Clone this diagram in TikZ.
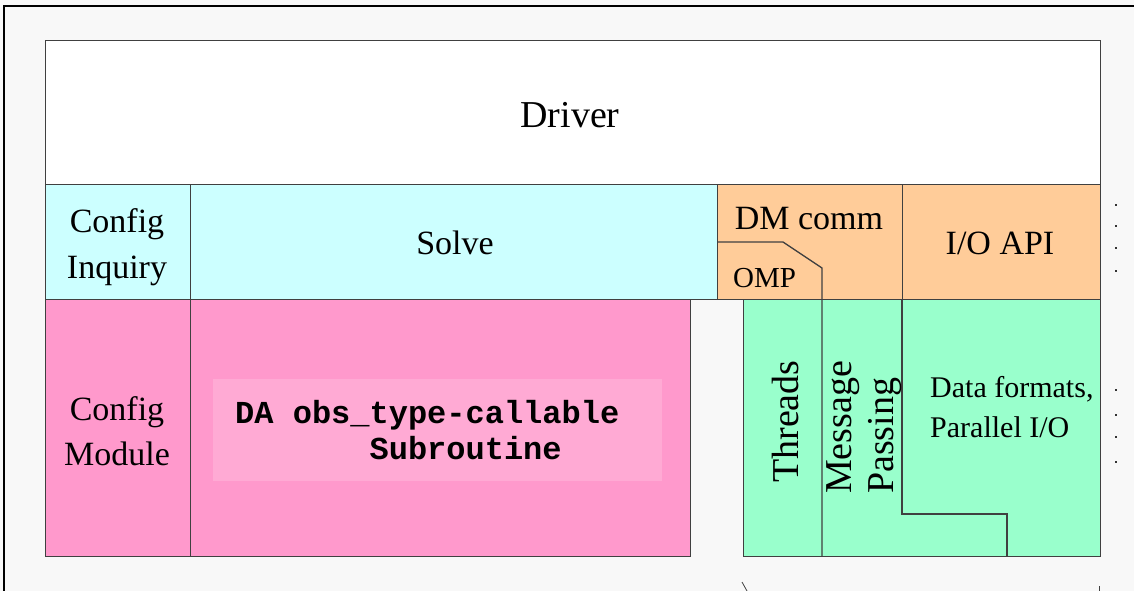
\documentclass[tikz,border=0pt]{standalone}
\usepackage{fontspec}
\setmainfont{Liberation Serif}
\setmonofont{Liberation Mono}
\definecolor{bg}{HTML}{F8F8F8}
\definecolor{bord}{HTML}{404040}
\definecolor{cyanbox}{HTML}{CCFFFF}
\definecolor{orangebox}{HTML}{FFCC99}
\definecolor{pinkbox}{HTML}{FF99CC}
\definecolor{pinklight}{HTML}{FFAAD4}
\definecolor{greenbox}{HTML}{99FFCC}
\begin{document}
\begin{tikzpicture}[x=1pt,y=-1pt,
  box/.style={draw=bord, line width=1.3pt, inner sep=0pt, anchor=north west},
  divline/.style={draw=bord, line width=1.3pt},
  lbl/.style={inner sep=0pt, anchor=base, font=\fontsize{34}{40}\selectfont},
  vlbl/.style={inner sep=0pt, anchor=base west, rotate=90, font=\fontsize{38}{40}\selectfont},
  dot/.style={fill=black!80, inner sep=0pt, minimum width=2pt, minimum height=1.3pt, rectangle},
  mono/.style={inner sep=0pt, anchor=base west, font=\fontsize{32}{36}\selectfont\ttfamily\bfseries},
]
\fill[bg] (0,0) rectangle (1134,591);
\useasboundingbox (0,0) rectangle (1134,591);
\draw[line width=2.5pt] (1134,6) -- (4,6) -- (4,591);

% boxes
\node[box, fill=white, minimum width=1055, minimum height=144] (driver) at (45,40) {};
\node[box, fill=cyanbox, minimum width=145, minimum height=115] (cfginq) at (45,184) {};
\node[box, fill=cyanbox, minimum width=527, minimum height=115] (solve) at (190,184) {};
\node[box, fill=orangebox, minimum width=185, minimum height=115] (dm) at (717,184) {};
\node[box, fill=orangebox, minimum width=198, minimum height=115] (io) at (902,184) {};
\node[box, fill=pinkbox, minimum width=145, minimum height=257] (cfgmod) at (45,299) {};
\node[box, fill=pinkbox, minimum width=500, minimum height=257] (da) at (190,299) {};
\node[box, draw=none, fill=pinklight, minimum width=449, minimum height=102] (dainner) at (212,378) {};
\node[box, fill=greenbox, minimum width=357, minimum height=257] (green) at (743,299) {};

% dividers
\draw[divline] (717,242) -- (783,242) -- (822,268) -- (822,556);
\draw[divline] (902,299) -- (902,514) -- (1007,514) -- (1007,556);

% labels
\node[lbl, font=\fontsize{38}{44}\selectfont] (tdriver) at (570,128) {Driver};
\node[lbl] (tconfig1) at (117,232) {Config};
\node[lbl] (tinquiry) at (117,278) {Inquiry};
\node[lbl] (tsolve) at (455,254) {Solve};
\node[lbl] (tdm) at (809,229) {DM comm};
\node[lbl, anchor=base west, font=\fontsize{29}{34}\selectfont] (tomp) at (733,287) {OMP};
\node[lbl] (tio) at (1000,254) {I/O API};
\node[lbl] (tconfig2) at (117,420) {Config};
\node[lbl] (tmodule) at (117,465) {Module};
\node[lbl, anchor=base west, font=\fontsize{30}{34}\selectfont] (tdata) at (930,397) {Data formats,};
\node[lbl, anchor=base west, font=\fontsize{30}{34}\selectfont] (tpario) at (930,437) {Parallel I/O};
\node[vlbl] (tthreads) at (798,483) {Threads};
\node[vlbl] (tmessage) at (851,494) {Message};
\node[vlbl] (tpassing) at (893,494) {Passing};
\node[mono] (tda1) at (235,423) {DA obs\_type-callable};
\node[mono] (tda2) at (235,459) {\phantom{DA obs\_}Subroutine};

% right-hand dots
\foreach \yy [count=\i] in {205,226,248,271,390,415,437,462}
  \node[dot] (d\i) at (1116,\yy) {};
% bottom marks
\coordinate (m1a) at (742,582); \coordinate (m1b) at (747,591);
\coordinate (m2a) at (1099,586); \coordinate (m2b) at (1099,591);
\draw[line width=0.8pt, bord] (m1a) -- (m1b);
\draw[line width=0.8pt, bord] (m2a) -- (m2b);
\end{tikzpicture}
\end{document}
